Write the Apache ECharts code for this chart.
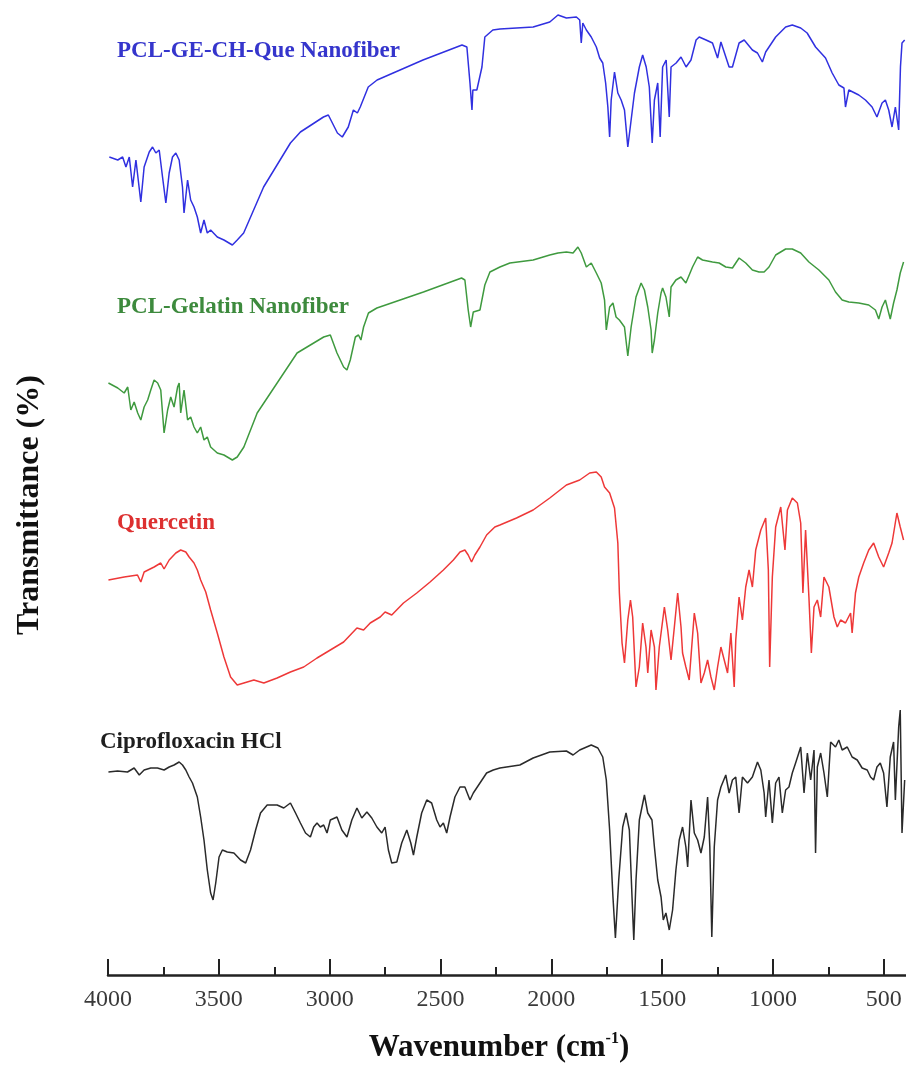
<!DOCTYPE html>
<html>
<head>
<meta charset="utf-8">
<script src="https://cdn.jsdelivr.net/npm/echarts@6/dist/echarts.min.js"></script>
<style>
  html, body { margin: 0; padding: 0; background: #fff; }
  #chart { width: 906px; height: 1072px; }
</style>
</head>
<body>
<div id="chart"></div>
<script>
// wavenumber (cm-1), stacked transmittance (arbitrary offset units)
const majorTicks = [500, 1000, 1500, 2000, 2500, 3000, 3500, 4000]
const minorTicks = [750, 1250, 1750, 2250, 2750, 3250, 3750]

const names = ['PCL-GE-CH-Que Nanofiber', 'PCL-Gelatin Nanofiber', 'Quercetin', 'Ciprofloxacin HCl']

const queFiber = [
  [3994,81.1],[3956,80.8],[3934,81.1],[3919,80.1],[3904,81.1],[3889,78.1],[3874,80.8],[3852,76.6],[3837,80.1],[3814,81.6],
  [3799,82.1],[3784,81.5],[3769,81.8],[3754,79.1],[3739,76.5],[3724,79.5],[3709,81.1],[3694,81.5],[3679,80.8],[3664,78.1],
  [3657,75.5],[3641,78.8],[3627,76.8],[3612,76.1],[3597,75.1],[3582,73.5],[3567,74.8],[3552,73.5],[3537,73.8],[3507,73.1],
  [3477,72.8],[3439,72.3],[3417,72.8],[3388,73.5],[3298,78.1],[3177,82.5],[3132,83.6],[3028,85.1],[3006,85.3],[2965,83.5],
  [2943,83.1],[2916,84.1],[2893,85.8],[2875,85.5],[2862,86.1],[2826,88.1],[2786,88.8],[2579,90.8],[2403,92.3],[2381,92.1],
  [2367,88.5],[2358,85.8],[2354,87.8],[2336,87.8],[2313,90.1],[2300,93.1],[2264,93.8],[2232,93.9],[2082,94.1],[2007,94.6],
  [1970,95.3],[1932,95.0],[1887,95.1],[1872,94.8],[1865,92.5],[1858,94.5],[1842,93.8],[1820,93.1],[1797,92.1],[1782,91.0],
  [1768,90.5],[1755,88.5],[1745,86.1],[1737,83.1],[1730,86.8],[1715,89.6],[1700,87.5],[1685,86.8],[1670,85.8],[1655,82.1],
  [1640,84.8],[1625,87.5],[1603,90.1],[1588,91.3],[1572,90.1],[1558,88.1],[1545,82.5],[1535,86.8],[1520,88.5],[1509,83.1],
  [1498,90.1],[1482,90.8],[1468,85.1],[1460,90.1],[1437,90.5],[1415,91.1],[1392,90.1],[1370,90.8],[1347,92.8],[1333,93.1],
  [1302,92.8],[1273,92.5],[1250,91.0],[1235,92.6],[1198,90.1],[1183,90.1],[1153,92.5],[1130,92.8],[1093,91.8],[1070,91.5],
  [1048,90.6],[1033,91.6],[988,93.1],[943,94.1],[913,94.3],[875,94.0],[846,93.5],[808,92.1],[763,91.0],[733,89.5],
  [703,88.3],[680,88.0],[673,86.1],[658,87.8],[613,87.3],[583,86.8],[553,86.1],[531,85.1],[508,86.5],[493,86.8],
  [478,85.8],[463,84.1],[448,86.1],[433,83.8],[425,90.1],[418,92.5],[406,92.8]
]

const gelatinFiber = [
  [3998,58.5],[3956,58.0],[3927,57.5],[3911,58.1],[3897,55.8],[3882,56.6],[3866,55.5],[3852,54.8],[3837,56.1],[3821,56.8],
  [3807,57.8],[3792,58.8],[3776,58.5],[3762,57.8],[3747,53.5],[3731,55.8],[3717,57.1],[3702,56.1],[3686,58.1],[3679,58.5],
  [3672,55.5],[3657,57.8],[3641,54.8],[3627,55.1],[3612,54.1],[3597,53.5],[3582,54.1],[3567,52.8],[3552,53.1],[3537,52.1],
  [3522,51.8],[3507,51.5],[3477,51.3],[3439,50.8],[3417,51.1],[3387,52.1],[3327,55.5],[3237,58.5],[3147,61.5],[3027,63.1],
  [2997,63.3],[2967,61.5],[2937,60.1],[2922,59.8],[2907,60.8],[2884,63.1],[2870,63.3],[2859,62.8],[2847,64.1],[2825,65.5],
  [2787,66.0],[2577,67.6],[2405,69.0],[2390,68.8],[2375,65.8],[2364,64.1],[2352,65.6],[2322,65.8],[2300,68.3],[2277,69.6],
  [2232,70.1],[2187,70.5],[2082,70.8],[2007,71.3],[1970,71.5],[1932,71.6],[1902,71.5],[1880,72.1],[1865,71.5],[1842,70.1],
  [1820,70.5],[1797,69.5],[1775,68.5],[1760,66.8],[1752,63.8],[1737,66.1],[1722,66.5],[1708,65.1],[1693,64.8],[1670,64.1],
  [1655,61.2],[1640,64.1],[1618,67.1],[1595,68.5],[1580,67.8],[1565,66.1],[1550,63.8],[1545,61.5],[1535,62.8],[1520,65.5],
  [1505,67.5],[1498,68.0],[1483,67.1],[1468,65.1],[1460,68.1],[1438,68.8],[1415,69.1],[1393,68.5],[1363,70.1],[1340,71.1],
  [1318,70.8],[1273,70.6],[1243,70.5],[1213,70.1],[1183,70.0],[1153,71.0],[1123,70.5],[1093,69.8],[1063,69.6],[1040,69.6],
  [1018,70.1],[988,71.3],[943,71.9],[913,71.9],[875,71.5],[838,70.6],[793,69.8],[748,68.8],[718,67.6],[688,66.8],
  [658,66.6],[613,66.5],[568,66.3],[538,65.8],[523,64.9],[508,66.1],[493,66.8],[471,64.9],[456,66.5],[441,67.8],
  [426,69.5],[411,70.6]
]

const quercetin = [
  [3998,38.8],[3927,39.1],[3867,39.3],[3852,38.6],[3837,39.6],[3792,40.1],[3762,40.5],[3747,39.9],[3724,40.8],[3694,41.5],
  [3672,41.8],[3649,41.6],[3634,41.1],[3612,40.5],[3597,39.8],[3582,38.8],[3559,37.6],[3537,35.8],[3507,33.5],[3477,31.1],
  [3447,29.1],[3417,28.3],[3387,28.5],[3342,28.8],[3297,28.5],[3237,29.0],[3177,29.6],[3117,30.1],[3057,31.0],[2997,31.8],
  [2937,32.6],[2877,34.0],[2847,33.8],[2817,34.5],[2772,35.1],[2750,35.6],[2720,35.3],[2667,36.5],[2607,37.5],[2547,38.6],
  [2487,39.8],[2442,40.8],[2412,41.6],[2390,41.8],[2375,41.3],[2360,40.6],[2345,41.3],[2322,42.1],[2292,43.3],[2255,44.1],
  [2232,44.3],[2157,45.0],[2082,45.8],[2007,47.0],[1932,48.3],[1872,48.8],[1827,49.5],[1797,49.6],[1775,49.1],[1760,48.1],
  [1737,47.5],[1715,46.0],[1700,42.5],[1693,37.5],[1681,32.5],[1670,30.5],[1655,34.8],[1643,36.8],[1633,35.1],[1618,28.1],
  [1603,30.1],[1588,34.5],[1573,32.1],[1565,29.5],[1550,33.8],[1535,32.1],[1528,27.8],[1513,32.1],[1490,36.1],[1475,33.8],
  [1460,30.8],[1445,34.1],[1430,37.5],[1415,34.1],[1408,31.5],[1393,30.1],[1378,28.8],[1355,35.5],[1340,33.5],[1325,28.5],
  [1310,29.5],[1295,30.8],[1280,29.1],[1265,27.8],[1250,30.1],[1235,32.1],[1220,30.8],[1205,29.5],[1190,33.5],[1175,28.1],
  [1168,32.8],[1153,37.1],[1138,34.8],[1123,38.1],[1108,39.8],[1093,38.1],[1078,41.8],[1055,43.8],[1033,45.0],[1021,39.8],
  [1015,30.1],[1003,39.1],[988,44.1],[965,46.1],[946,41.8],[935,45.8],[913,47.0],[890,46.5],[875,44.5],[865,37.5],
  [853,43.8],[838,37.1],[827,31.5],[815,36.1],[800,36.8],[785,35.1],[770,39.1],[748,38.1],[725,35.1],[710,34.1],
  [695,34.8],[673,34.5],[650,35.5],[643,33.5],[628,37.5],[613,39.1],[591,40.5],[568,41.8],[546,42.5],[523,41.1],
  [501,40.1],[478,41.5],[463,42.5],[441,45.5],[426,44.1],[411,42.8]
]

const ciprofloxacin = [
  [3998,19.6],[3957,19.7],[3912,19.6],[3882,20.0],[3859,19.3],[3837,19.8],[3807,20.0],[3777,20.0],[3747,19.8],[3724,20.1],
  [3702,20.3],[3679,20.6],[3664,20.3],[3649,19.8],[3634,19.1],[3619,18.5],[3597,17.1],[3582,15.1],[3567,12.8],[3552,9.8],
  [3537,7.5],[3526,6.8],[3514,8.5],[3499,11.1],[3484,11.8],[3462,11.6],[3432,11.5],[3402,10.8],[3379,10.5],[3357,11.8],
  [3334,13.8],[3312,15.5],[3282,16.3],[3237,16.3],[3207,16.0],[3177,16.5],[3154,15.5],[3132,14.5],[3109,13.5],[3087,13.1],
  [3072,14.1],[3057,14.5],[3042,14.1],[3027,14.3],[3012,13.5],[2997,14.8],[2967,15.1],[2945,13.8],[2922,13.1],[2900,14.8],
  [2877,16.0],[2855,15.0],[2832,15.6],[2810,15.0],[2787,14.1],[2765,13.5],[2750,14.1],[2735,11.8],[2720,10.5],[2697,10.6],
  [2675,12.5],[2652,13.8],[2634,12.5],[2622,11.3],[2607,13.1],[2585,15.5],[2562,16.8],[2540,16.5],[2517,14.8],[2502,14.1],
  [2487,14.5],[2472,13.5],[2457,15.1],[2435,17.1],[2412,18.1],[2390,18.1],[2367,16.8],[2352,17.5],[2322,18.5],[2292,19.5],
  [2262,19.8],[2232,20.0],[2142,20.3],[2082,21.0],[2007,21.6],[1932,21.7],[1902,21.3],[1872,21.8],[1820,22.3],[1790,22.0],
  [1768,21.1],[1752,18.8],[1737,13.8],[1722,7.1],[1711,3.0],[1696,8.8],[1678,14.1],[1663,15.5],[1648,13.8],[1636,7.1],
  [1628,2.8],[1618,8.8],[1603,14.8],[1580,17.3],[1565,15.5],[1546,14.8],[1535,12.1],[1520,8.8],[1505,7.1],[1495,4.8],
  [1483,5.5],[1468,3.8],[1453,5.8],[1438,9.8],[1423,12.8],[1408,14.1],[1393,12.1],[1385,10.1],[1370,16.8],[1355,13.5],
  [1340,12.8],[1325,11.5],[1310,13.1],[1295,17.1],[1285,12.1],[1276,3.1],[1265,12.1],[1250,16.8],[1235,18.1],[1213,19.3],
  [1198,17.5],[1183,18.8],[1168,19.1],[1153,15.5],[1138,19.1],[1115,18.5],[1093,19.1],[1070,20.6],[1055,19.8],[1040,17.5],
  [1033,15.1],[1018,18.8],[1003,14.5],[988,18.5],[973,19.1],[958,15.5],[943,17.8],[928,18.1],[913,19.5],[898,20.5],
  [875,22.1],[860,17.5],[845,21.5],[830,18.8],[815,21.8],[808,11.5],[800,20.1],[785,21.5],[770,19.5],[755,17.1],
  [740,22.6],[718,22.1],[703,22.8],[688,21.8],[665,22.1],[643,21.1],[620,20.8],[598,20.0],[575,19.8],[560,19.1],
  [546,18.8],[531,20.1],[516,20.5],[501,19.5],[486,16.1],[471,21.1],[456,22.6],[448,16.8],[433,24.1],[426,25.8],
  [418,13.5],[406,18.8]
]

const lineColors = ['#3030e0', '#3f9a3f', '#ee3838', '#2a2a2a']
const labelColors = ['#3535cc', '#3d8a3d', '#dd3030', '#1e1e1e']
const serif = '"Liberation Serif", "DejaVu Serif", serif'

const chart = echarts.init(document.getElementById('chart'))

const spectra = [queFiber, gelatinFiber, quercetin, ciprofloxacin]
const labelPos = [[117, 51], [117, 307], [117, 523], [100, 742]]

chart.setOption({
    animation: false,
    backgroundColor: '#fff',
    grid: { left: 108, right: 0, top: 8, bottom: 97 },
    xAxis: [
        {
            type: 'value',
            min: 400,
            max: 4000,
            inverse: true,
            splitLine: { show: false },
            axisLine: { onZero: false, lineStyle: { color: '#222', width: 2.5 } },
            axisTick: { inside: true, length: 16, customValues: majorTicks, lineStyle: { color: '#222', width: 2 } },
            axisLabel: {
                customValues: majorTicks,
                formatter: v => String(v),
                margin: 13,
                color: '#3a3a3a',
                fontFamily: serif,
                fontSize: 24
            },
            name: 'Wavenumber (cm{s|-1})',
            nameLocation: 'middle',
            nameGap: 56,
            nameTextStyle: {
                color: '#111',
                fontFamily: serif,
                fontWeight: 'bold',
                fontSize: 31,
                padding: [0, 16, 0, 0],
                rich: {
                    s: { fontFamily: serif, fontWeight: 'bold', fontSize: 16, color: '#111', padding: [0, 0, 18, 0] }
                }
            }
        },
        {
            type: 'value',
            min: 400,
            max: 4000,
            inverse: true,
            position: 'bottom',
            splitLine: { show: false },
            axisLine: { show: false, onZero: false },
            axisLabel: { show: false },
            axisTick: { inside: true, length: 8, customValues: minorTicks, lineStyle: { color: '#222', width: 2 } }
        }
    ],
    yAxis: {
        type: 'value',
        min: -0.7,
        max: 96,
        show: false
    },
    series: spectra.map((d, i) => ({
        name: names[i],
        type: 'line',
        data: d,
        symbol: 'none',
        lineStyle: { color: lineColors[i], width: 1.5 }
    })),
    graphic: names.map((n, i) => ({
        type: 'text',
        x: labelPos[i][0],
        y: labelPos[i][1],
        style: {
            text: n,
            fill: labelColors[i],
            font: 'bold 23px ' + serif,
            textVerticalAlign: 'middle'
        }
    })).concat([{
        type: 'text',
        x: 30,
        y: 505,
        rotation: Math.PI / 2,
        style: {
            text: 'Transmittance (%)',
            fill: '#111',
            font: 'bold 32px ' + serif,
            textAlign: 'center',
            textVerticalAlign: 'middle'
        }
    }])
})
</script>
</body>
</html>
